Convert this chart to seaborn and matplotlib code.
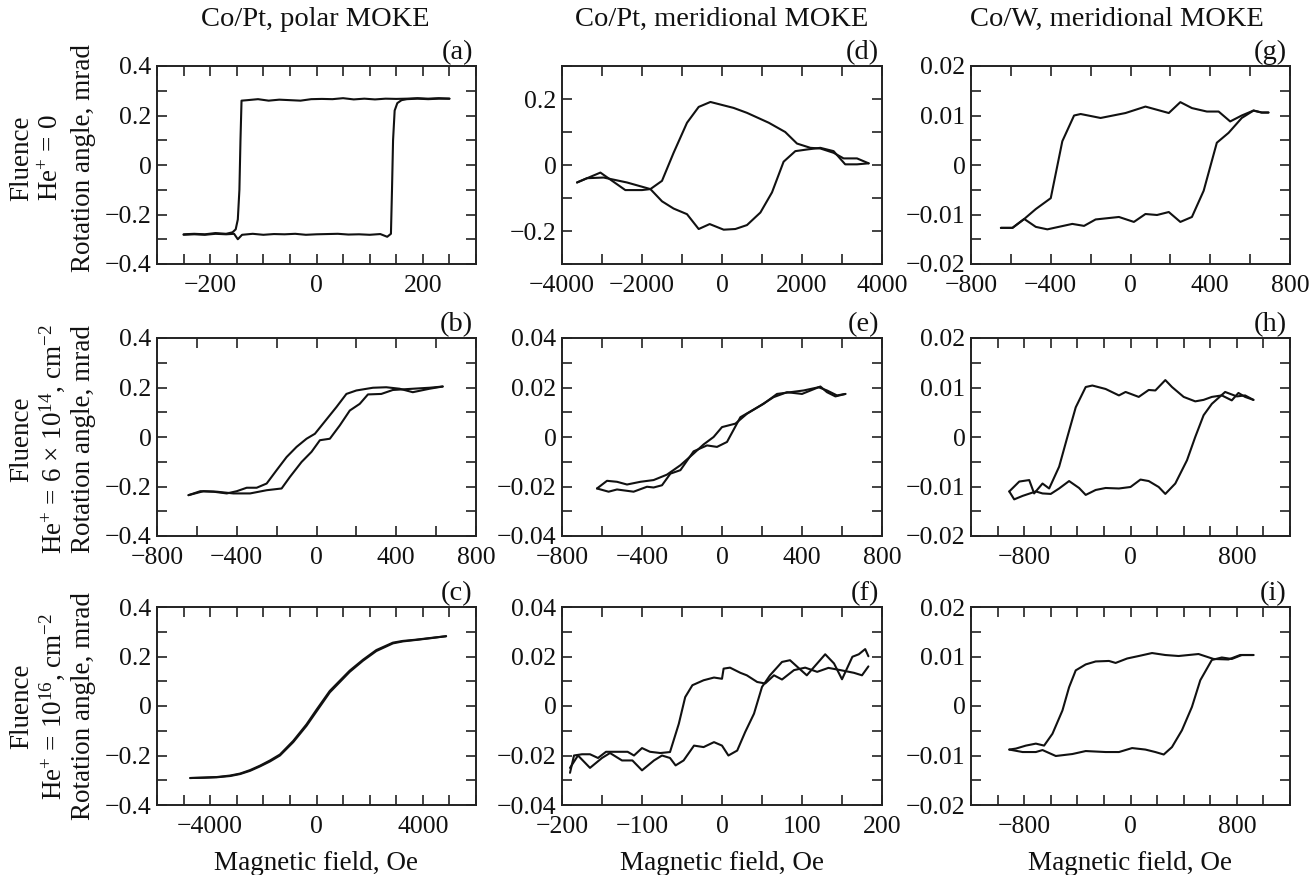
import numpy as np
import pandas as pd
import matplotlib
matplotlib.use("Agg")
import matplotlib.pyplot as plt
from matplotlib.ticker import MultipleLocator, FixedLocator, FuncFormatter
import seaborn as sns

# ---------------- data ----------------
# (a) Co/Pt polar, fluence 0
a_dn_x = [250, 230, 210, 190, 170, 150, 130, 110, 90, 70, 50, 30, 10, -10, -30, -50, -70, -90, -110, -130,
          -141, -143, -145, -148, -152, -158, -170, -190, -210, -230, -250]
a_dn_y = [0.268, 0.270, 0.268, 0.270, 0.268, 0.267, 0.268, 0.265, 0.268, 0.265, 0.270, 0.266, 0.267, 0.266,
          0.260, 0.262, 0.264, 0.260, 0.266, 0.262, 0.260, 0.10, -0.10, -0.22, -0.26, -0.272, -0.278, -0.275,
          -0.280, -0.278, -0.280]
a_up_x = [-250, -230, -210, -190, -170, -155, -148, -140, -120, -100, -80, -60, -40, -20, 0, 20, 40, 60, 80,
          100, 120, 133, 140, 142, 144, 147, 152, 160, 170, 190, 210, 230, 250]
a_up_y = [-0.282, -0.280, -0.282, -0.278, -0.280, -0.278, -0.300, -0.282, -0.278, -0.282, -0.279, -0.280,
          -0.278, -0.282, -0.280, -0.279, -0.278, -0.281, -0.280, -0.282, -0.279, -0.290, -0.278, -0.10, 0.10,
          0.22, 0.25, 0.262, 0.266, 0.268, 0.266, 0.268, 0.268]

# (b) Co/Pt polar, fluence 6e14
b_dn_x = [633, 567, 483, 417, 350, 283, 200, 150, 100, 33, -8, -50, -100, -150, -200, -250, -300, -350, -400,
          -450, -517, -583, -642]
b_dn_y = [0.204, 0.195, 0.181, 0.195, 0.201, 0.199, 0.188, 0.174, 0.121, 0.054, 0.013, -0.007, -0.040, -0.081,
          -0.134, -0.188, -0.205, -0.205, -0.219, -0.228, -0.221, -0.219, -0.235]
b_up_x = [-642, -567, -500, -417, -333, -250, -175, -133, -75, -25, 17, 67, 117, 167, 217, 258, 325, 383, 483,
          567, 633]
b_up_y = [-0.235, -0.219, -0.221, -0.228, -0.228, -0.215, -0.208, -0.161, -0.101, -0.060, -0.013, -0.007, 0.047,
          0.107, 0.134, 0.172, 0.174, 0.190, 0.195, 0.199, 0.204]

# (c) Co/Pt polar, fluence 1e16
c_x = [-4750, -4250, -3750, -3250, -2875, -2500, -2125, -1750, -1375, -875, -375, 0, 500, 1250, 1750, 2250,
       2875, 3250, 3750, 4300, 4875]
c_dn_y = [-0.291, -0.289, -0.287, -0.281, -0.273, -0.259, -0.241, -0.220, -0.196, -0.141, -0.074, -0.015,
          0.061, 0.143, 0.187, 0.226, 0.256, 0.263, 0.268, 0.275, 0.282]
c_up_y = [-0.291, -0.290, -0.288, -0.283, -0.275, -0.262, -0.244, -0.224, -0.200, -0.146, -0.080, -0.022,
          0.055, 0.138, 0.183, 0.222, 0.253, 0.261, 0.267, 0.274, 0.282]

# (d) Co/Pt meridional, fluence 0
d_dn_x = [3667, 3375, 3040, 2790, 2460, 2210, 1875, 1580, 1170, 625, 290, -290, -583, -875, -1210, -1500,
          -1790, -2000, -2417, -3040, -3333, -3625]
d_dn_y = [0.005, 0.020, 0.020, 0.037, 0.050, 0.052, 0.065, 0.100, 0.128, 0.158, 0.173, 0.191, 0.176, 0.128,
          0.037, -0.048, -0.073, -0.076, -0.076, -0.023, -0.038, -0.053]
d_up_x = [-3625, -3375, -2960, -2375, -1790, -1500, -1210, -875, -583, -308, 42, 333, 625, 960, 1250, 1540,
          1833, 2125, 2458, 2790, 3080, 3375, 3667]
d_up_y = [-0.053, -0.040, -0.038, -0.053, -0.073, -0.110, -0.132, -0.149, -0.194, -0.179, -0.196, -0.194,
          -0.182, -0.144, -0.083, 0.010, 0.042, 0.047, 0.052, 0.042, 0.002, 0.002, 0.005]

# (e) Co/Pt meridional, fluence 6e14
e_dn_x = [617, 567, 525, 492, 400, 325, 258, 192, 125, 67, 0, -42, -92, -142, -208, -275, -342, -408, -475,
          -525, -575, -625]
e_dn_y = [0.0174, 0.0164, 0.0181, 0.0204, 0.0174, 0.0181, 0.0161, 0.0127, 0.0094, 0.0054, 0.0040, 0.0000,
          -0.0030, -0.0067, -0.0114, -0.0152, -0.0174, -0.0181, -0.0192, -0.0181, -0.0177, -0.0208]
e_up_x = [-625, -567, -525, -442, -375, -342, -300, -258, -208, -142, -75, -25, 25, 92, 150, 208, 275, 342,
          408, 483, 525, 575, 617]
e_up_y = [-0.0208, -0.0221, -0.0212, -0.0221, -0.0201, -0.0204, -0.0195, -0.0148, -0.0134, -0.0058, -0.0034,
          -0.0040, -0.0020, 0.0080, 0.0107, 0.0134, 0.0174, 0.0181, 0.0188, 0.0201, 0.0188, 0.0168, 0.0174]

# (f) Co/Pt meridional, fluence 1e16
f_dn_x = [183, 175, 165, 148, 133, 119, 104, 90, 75, 65, 54, 44, 31, 23, 10, 2, 0, -10, -23, -37, -46, -54,
          -65, -77, -90, -100, -110, -118, -125, -135, -145, -155, -165, -175, -185, -190]
f_dn_y = [0.0160, 0.0124, 0.0134, 0.0145, 0.0154, 0.0138, 0.0155, 0.0145, 0.0107, 0.0124, 0.0091, 0.0097,
          0.0124, 0.0134, 0.0155, 0.0151, 0.0110, 0.0115, 0.0104, 0.0084, 0.0036, -0.0072, -0.0186, -0.0190,
          -0.0185, -0.0170, -0.0200, -0.0185, -0.0185, -0.0185, -0.0185, -0.0210, -0.0195, -0.0195, -0.0200,
          -0.0270]
f_up_x = [-190, -180, -165, -150, -140, -125, -112, -100, -85, -75, -65, -58, -48, -35, -23, -10, 0, 8, 19,
          29, 40, 50, 60, 75, 85, 98, 106, 119, 129, 140, 150, 163, 171, 179, 183]
f_up_y = [-0.0250, -0.0200, -0.0250, -0.0210, -0.0190, -0.0220, -0.0220, -0.0260, -0.0220, -0.0200, -0.0210,
          -0.0240, -0.0220, -0.0160, -0.0166, -0.0146, -0.0160, -0.0200, -0.0180, -0.0105, -0.0031, 0.0077,
          0.0124, 0.0178, 0.0185, 0.0147, 0.0124, 0.0172, 0.0209, 0.0172, 0.0108, 0.0199, 0.0209, 0.0230,
          0.0201]

# (g) Co/W meridional, fluence 0
g_dn_x = [692, 658, 617, 558, 500, 442, 383, 308, 250, 192, 75, -25, -150, -250, -283, -342, -400, -475, -533,
          -592, -650]
g_dn_y = [0.0106, 0.0106, 0.0110, 0.0100, 0.0088, 0.0108, 0.0108, 0.0115, 0.0127, 0.0105, 0.0118, 0.0105,
          0.0095, 0.0103, 0.0100, 0.0048, -0.0067, -0.0089, -0.0109, -0.0127, -0.0127]
g_up_x = [-650, -592, -533, -475, -417, -292, -233, -175, -58, 17, 75, 133, 192, 250, 308, 367, 433, 492, 558,
          617, 658, 692]
g_up_y = [-0.0127, -0.0127, -0.0109, -0.0125, -0.0130, -0.0119, -0.0123, -0.0110, -0.0105, -0.0115, -0.0099,
          -0.0101, -0.0095, -0.0115, -0.0105, -0.0052, 0.0045, 0.0065, 0.0095, 0.0110, 0.0106, 0.0106]

# (h) Co/W meridional, fluence 6e14
h_dn_x = [925, 862, 812, 762, 687, 612, 550, 487, 400, 312, 262, 187, 137, 62, -37, -87, -187, -287, -337,
          -412, -475, -537, -612, -662, -725, -762, -837, -912]
h_dn_y = [0.0075, 0.0081, 0.0089, 0.0074, 0.0084, 0.0081, 0.0075, 0.0072, 0.0081, 0.0101, 0.0115, 0.0094,
          0.0095, 0.0081, 0.0091, 0.0084, 0.0097, 0.0104, 0.0101, 0.0060, 0.0000, -0.0060, -0.0104, -0.0094,
          -0.0114, -0.0087, -0.0090, -0.0110]
h_up_x = [-912, -875, -812, -712, -662, -600, -537, -462, -387, -337, -262, -187, -87, 0, 75, 137, 212, 262,
          337, 425, 487, 550, 612, 712, 800, 862, 925]
h_up_y = [-0.0110, -0.0126, -0.0119, -0.0110, -0.0114, -0.0115, -0.0104, -0.0089, -0.0103, -0.0117, -0.0107,
          -0.0103, -0.0104, -0.0101, -0.0086, -0.0089, -0.0101, -0.0115, -0.0094, -0.0047, 0.0000, 0.0044,
          0.0067, 0.0091, 0.0082, 0.0084, 0.0075]

# (i) Co/W meridional, fluence 1e16
i_dn_x = [925, 825, 737, 625, 512, 362, 262, 162, 62, -25, -112, -162, -262, -337, -412, -462, -512, -587,
          -650, -712, -787, -862, -912]
i_dn_y = [0.0103, 0.0103, 0.0094, 0.0095, 0.0105, 0.0101, 0.0103, 0.0107, 0.0101, 0.0096, 0.0087, 0.0091,
          0.0090, 0.0084, 0.0072, 0.0038, -0.0009, -0.0056, -0.0080, -0.0076, -0.0080, -0.0086, -0.0088]
i_up_x = [-912, -812, -712, -662, -562, -437, -337, -187, -87, 12, 112, 187, 250, 312, 387, 462, 525, 612,
          687, 762, 837, 925]
i_up_y = [-0.0088, -0.0093, -0.0093, -0.0089, -0.0101, -0.0097, -0.0091, -0.0093, -0.0093, -0.0085, -0.0088,
          -0.0093, -0.0098, -0.0083, -0.0049, -0.0002, 0.0052, 0.0093, 0.0098, 0.0095, 0.0103, 0.0103]

col_titles = ["Co/Pt, polar MOKE", "Co/Pt, meridional MOKE", "Co/W, meridional MOKE"]
row_labels = [
    ["Fluence", "He$^{+}$ = 0", "Rotation angle, mrad"],
    ["Fluence", "He$^{+}$ = 6 \u00d7 10$^{14}$, cm$^{-2}$", "Rotation angle, mrad"],
    ["Fluence", "He$^{+}$ = 10$^{16}$, cm$^{-2}$", "Rotation angle, mrad"],
]
xlabel = "Magnetic field, Oe"

panels = {
    "a": (a_dn_x, a_dn_y, a_up_x, a_up_y),
    "b": (b_dn_x, b_dn_y, b_up_x, b_up_y),
    "c": (c_x, c_dn_y, c_x, c_up_y),
    "d": (d_dn_x, d_dn_y, d_up_x, d_up_y),
    "e": (e_dn_x, e_dn_y, e_up_x, e_up_y),
    "f": (f_dn_x, f_dn_y, f_up_x, f_up_y),
    "g": (g_dn_x, g_dn_y, g_up_x, g_up_y),
    "h": (h_dn_x, h_dn_y, h_up_x, h_up_y),
    "i": (i_dn_x, i_dn_y, i_up_x, i_up_y),
}

# axis settings: xlim, x major ticks, x minor step, ylim, y major ticks, y minor step
axis_cfg = {
    "a": ((-300, 300), [-200, 0, 200], 50, (-0.4, 0.4), [-0.4, -0.2, 0, 0.2, 0.4], 0.1),
    "b": ((-800, 800), [-800, -400, 0, 400, 800], 200, (-0.4, 0.4), [-0.4, -0.2, 0, 0.2, 0.4], 0.1),
    "c": ((-6000, 6000), [-4000, 0, 4000], 1000, (-0.4, 0.4), [-0.4, -0.2, 0, 0.2, 0.4], 0.1),
    "d": ((-4000, 4000), [-4000, -2000, 0, 2000, 4000], 1000, (-0.3, 0.3), [-0.2, 0, 0.2], 0.1),
    "e": ((-800, 800), [-800, -400, 0, 400, 800], 200, (-0.04, 0.04), [-0.04, -0.02, 0, 0.02, 0.04], 0.01),
    "f": ((-200, 200), [-200, -100, 0, 100, 200], 50, (-0.04, 0.04), [-0.04, -0.02, 0, 0.02, 0.04], 0.01),
    "g": ((-800, 800), [-800, -400, 0, 400, 800], 200, (-0.02, 0.02), [-0.02, -0.01, 0, 0.01, 0.02], 0.005),
    "h": ((-1200, 1200), [-800, 0, 800], 200, (-0.02, 0.02), [-0.02, -0.01, 0, 0.01, 0.02], 0.005),
    "i": ((-1200, 1200), [-800, 0, 800], 200, (-0.02, 0.02), [-0.02, -0.01, 0, 0.01, 0.02], 0.005),
}

# ---------------- style ----------------
sns.set_theme(style="ticks")
plt.rcParams["font.family"] = ["Liberation Serif", "DejaVu Serif"]
plt.rcParams["mathtext.fontset"] = "custom"
plt.rcParams["mathtext.rm"] = "Liberation Serif"
plt.rcParams["mathtext.it"] = "Liberation Serif:italic"
plt.rcParams["mathtext.bf"] = "Liberation Serif:bold"
FS_TICK = 18.5
FS_LABEL = 19.5
FS_TITLE = 20.5
FS_LETTER = 20.5
INK = "#111111"

W, H = 1315, 875
fig = plt.figure(figsize=(W / 100, H / 100), dpi=100)

col_left = [157, 562, 971]
col_w = [319, 320, 319]
row_top = [66, 338, 607]
row_h = [198, 198, 198]


def fmt(v, pos):
    if abs(v) < 1e-12:
        return "0"
    s = "{:g}".format(round(v, 6))
    return s.replace("-", "\u2212")


letters = [["a", "d", "g"], ["b", "e", "h"], ["c", "f", "i"]]

for r in range(3):
    for c in range(3):
        key = letters[r][c]
        ax = fig.add_axes([col_left[c] / W, 1 - (row_top[r] + row_h[r]) / H, col_w[c] / W, row_h[r] / H])
        dx, dy, ux, uy = panels[key]
        df_dn = pd.DataFrame({"H": dx, "M": dy})
        df_up = pd.DataFrame({"H": ux, "M": uy})
        sns.lineplot(data=df_dn, x="H", y="M", sort=False, estimator=None, color=INK, lw=1.5, ax=ax)
        sns.lineplot(data=df_up, x="H", y="M", sort=False, estimator=None, color=INK, lw=1.5, ax=ax)
        xl, xmaj, xmin_step, yl, ymaj, ymin_step = axis_cfg[key]
        ax.set_xlim(*xl)
        ax.set_ylim(*yl)
        ax.xaxis.set_major_locator(FixedLocator(xmaj))
        ax.xaxis.set_minor_locator(MultipleLocator(xmin_step))
        ax.yaxis.set_major_locator(FixedLocator(ymaj))
        ax.yaxis.set_minor_locator(MultipleLocator(ymin_step))
        ax.xaxis.set_major_formatter(FuncFormatter(fmt))
        ax.yaxis.set_major_formatter(FuncFormatter(fmt))
        ax.tick_params(which="both", direction="in", top=True, right=True, length=7, width=1.2,
                       color="#222222", labelsize=FS_TICK, labelcolor=INK)
        ax.tick_params(axis="x", which="major", pad=8)
        ax.tick_params(axis="y", which="major", pad=4)
        for s in ax.spines.values():
            s.set_linewidth(1.4)
            s.set_color("#222222")
        ax.set_xlabel("")
        ax.set_ylabel("")
        ax.text(0.99, 1.005, "(" + key + ")", transform=ax.transAxes, ha="right", va="bottom",
                fontsize=FS_LETTER, color=INK)
        if r == 2:
            ax.set_xlabel(xlabel, fontsize=FS_LABEL, color=INK, labelpad=9)

# column titles
title_x = [315, 722, 1117]
for c in range(3):
    fig.text(title_x[c] / W, 1 - 19 / H, col_titles[c], ha="center", va="center", fontsize=FS_TITLE, color=INK)

# row labels
line_x = [22, 52, 83]
row_center = [158, 439, 706]
for r in range(3):
    for k in range(3):
        fig.text(line_x[k] / W, 1 - row_center[r] / H, row_labels[r][k], rotation=90, ha="center",
                 va="center", fontsize=FS_LABEL, color=INK)

fig.savefig("out.png", dpi=100, facecolor="white")
